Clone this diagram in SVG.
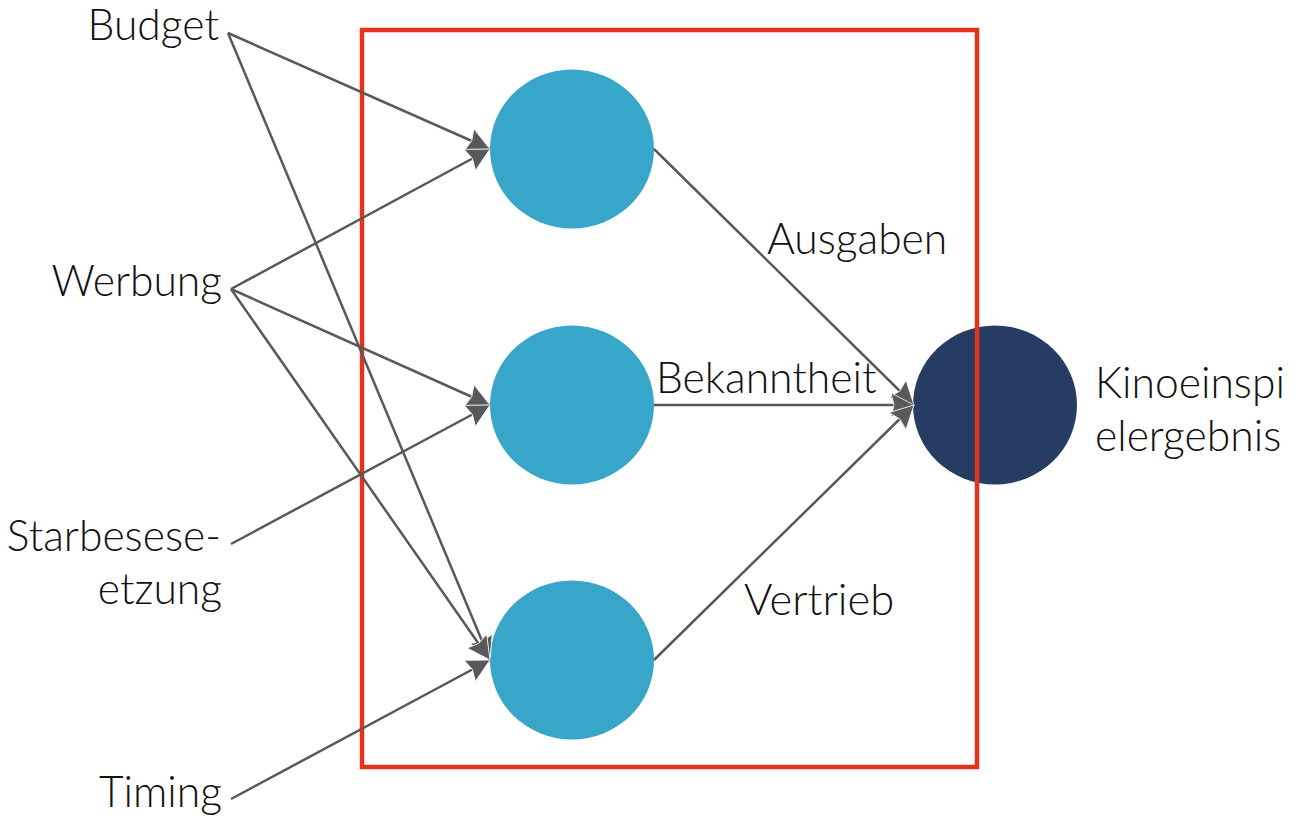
<svg xmlns="http://www.w3.org/2000/svg" width="1296" height="816" viewBox="0 0 1296 816">
<style>
text{font-family:Lato,"Liberation Sans",sans-serif;font-size:42.600px;font-weight:300;fill:#111}
.e{text-anchor:end}
.n{fill:#38a6c9}
.c line{stroke:#595959;stroke-width:2.5;fill:none;marker-end:url(#a)}
</style>
<defs><marker id="a" markerUnits="userSpaceOnUse" markerWidth="30" markerHeight="30" refX="26" refY="15" orient="auto"><path d="M3 3L26 15L3 27L6 15Z" fill="#595959" stroke="#fff" stroke-width="0.800"/></marker></defs>
<rect width="1296" height="816" fill="#fff"/>
<g id="n1"><ellipse class="n" cx="572" cy="149" rx="82" ry="79.500"/></g>
<g id="n2"><ellipse class="n" cx="572" cy="405" rx="82" ry="79.500"/></g>
<g id="n3"><ellipse class="n" cx="572" cy="660" rx="82" ry="79.500"/></g>
<g id="out"><ellipse cx="995" cy="405" rx="82" ry="79.500" fill="#263c62"/></g>
<g id="frame"><rect x="362" y="30" width="615" height="737" fill="none" stroke="#e5321b" stroke-width="4.500"/></g>
<g class="c" id="connectors">
<line x1="228" y1="33" x2="490" y2="149"/>
<line x1="228" y1="33" x2="490" y2="660"/>
<line x1="231" y1="289" x2="490" y2="149"/>
<line x1="231" y1="289" x2="490" y2="405"/>
<line x1="231" y1="289" x2="490" y2="660"/>
<line x1="231" y1="544" x2="490" y2="405"/>
<line x1="231" y1="799" x2="490" y2="660"/>
<line x1="654" y1="149" x2="914" y2="405"/>
<line x1="654" y1="405" x2="914" y2="405"/>
<line x1="654" y1="660" x2="914" y2="405"/>
</g>
<g id="labels">
<text class="e" x="219" y="40">Budget</text>
<text class="e" x="222" y="296">Werbung</text>
<text class="e" x="221" y="551">Starbesese-</text>
<text class="e" x="222" y="604">etzung</text>
<text class="e" x="222" y="807">Timing</text>
<text x="767" y="254">Ausgaben</text>
<text x="656" y="393">Bekanntheit</text>
<text x="744" y="615" font-size="43.500" style="font-size:43.500px">Vertrieb</text>
<text x="1095" y="398">Kinoeinspi</text>
<text x="1095" y="451">elergebnis</text>
</g>
</svg>
